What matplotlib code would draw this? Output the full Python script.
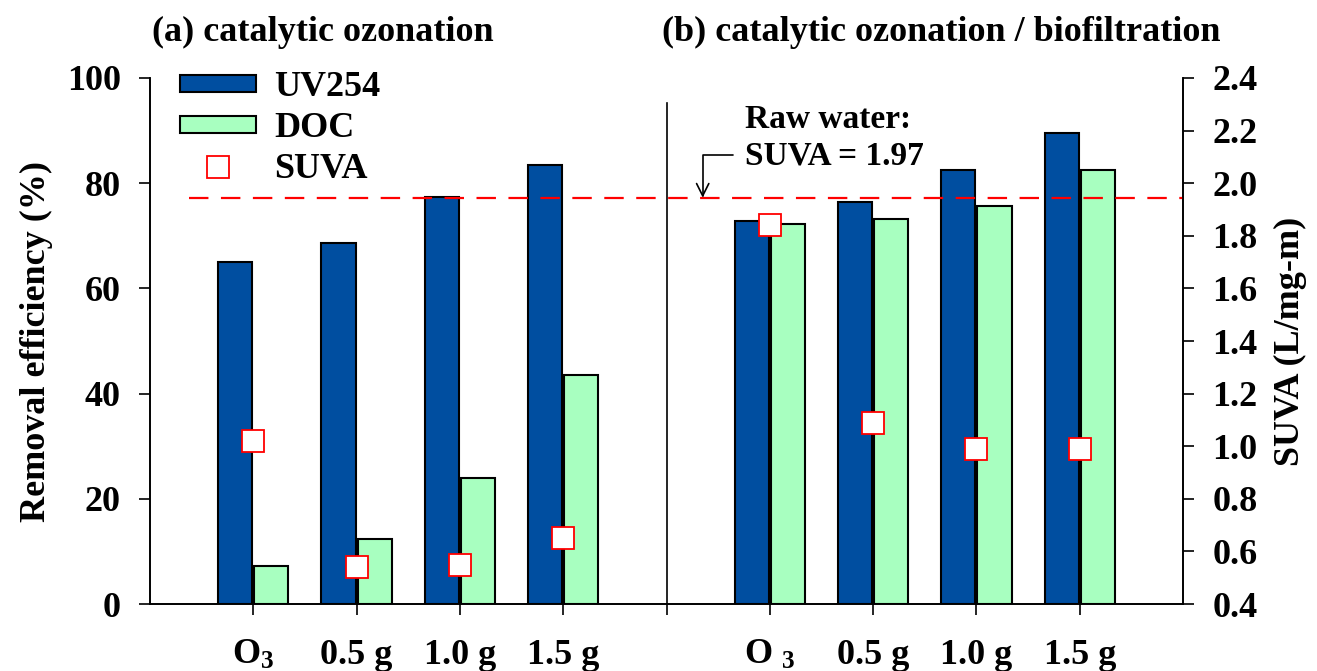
import matplotlib
matplotlib.use('Agg')
import matplotlib.pyplot as plt
import matplotlib.transforms as mtransforms
import numpy as np

# Data
groups = ['O$_3$', '0.5 g', '1.0 g', '1.5 g', 'O $_3$', '0.5 g', '1.0 g', '1.5 g']
xpos = np.array([1, 2, 3, 4, 6, 7, 8, 9])
uv254 = [65.0, 68.6, 77.4, 83.5, 72.8, 76.4, 82.5, 89.5]
doc = [7.2, 12.4, 24.0, 43.5, 72.2, 73.2, 75.7, 82.5]
suva = [1.02, 0.54, 0.55, 0.65, 1.84, 1.09, 0.99, 0.99]
raw_suva = 1.945

plt.rcParams['font.family'] = 'Liberation Serif'
plt.rcParams['font.weight'] = 'bold'
plt.rcParams['axes.labelweight'] = 'bold'
plt.rcParams['mathtext.fontset'] = 'custom'
plt.rcParams['mathtext.rm'] = 'Liberation Serif:bold'
plt.rcParams['mathtext.default'] = 'rm'
plt.rcParams['lines.scale_dashes'] = False

fs = 26

fig = plt.figure(figsize=(13.17, 6.71), dpi=100)
ax = fig.add_axes([0.1139, 0.0998, 0.7844, 0.784])
ax2 = ax.twinx()

w = 0.33
ax.bar(xpos - 0.175, uv254, w, color='#004ea0', edgecolor='black', linewidth=1.5, label='UV254', zorder=2)
ax.bar(xpos + 0.175, doc, w, color='#a8ffc0', edgecolor='black', linewidth=1.5, label='DOC', zorder=2)
ax2.plot(xpos, suva, 's', ms=16, mfc='white', mec='red', mew=1.3, label='SUVA', zorder=3)
raw = ax2.hlines(raw_suva, 0.38, 10, colors='red', linewidth=1.6, zorder=1)
raw.set_dashes([(0, (14, 9))])

# divider between panels
ax.axvline(5, 0, 0.952, color='black', linewidth=1.2)

ax.set_xlim(0, 10)
ax.set_ylim(0, 100)
ax2.set_ylim(0.4, 2.4)
ax.set_yticks(range(0, 101, 20))
ax2.set_yticks(np.arange(0.4, 2.41, 0.2))
ax2.set_yticklabels(['%.1f' % v for v in np.arange(0.4, 2.41, 0.2)])
ax.set_xticks(list(xpos) + [5])
ax.set_xticklabels(groups + [''])

for a in (ax, ax2):
    a.spines['top'].set_visible(False)
    for s in a.spines.values():
        s.set_linewidth(1.2)
ax.tick_params(axis='both', direction='out', length=8, width=1.2, labelsize=fs, pad=13)
ax.tick_params(axis='x', pad=17)
ax2.tick_params(axis='y', direction='out', length=8, width=1.2, labelsize=fs, pad=13)

ax.set_ylabel('Removal efficiency (%)', fontsize=fs, labelpad=10)
ax2.set_ylabel('SUVA (L/mg-m)', fontsize=fs, labelpad=12)

trans = mtransforms.blended_transform_factory(ax.transData, ax.transAxes)
ax.text(1.675, 1.07, '(a) catalytic ozonation', transform=trans, ha='center', va='baseline', fontsize=fs)
ax.text(7.66, 1.07, '(b) catalytic ozonation / biofiltration', transform=trans, ha='center', va='baseline', fontsize=fs)

# raw water annotation
ax2.annotate('', xy=(5.35, raw_suva), xytext=(5.64, 2.107),
             arrowprops=dict(arrowstyle='->', color='black', lw=1.2, mutation_scale=22,
                             shrinkA=0, shrinkB=0,
                             connectionstyle='angle,angleA=0,angleB=90,rad=0'))
ax2.text(5.76, 2.30, 'Raw water:\nSUVA = 1.97', fontsize=24, ha='left', va='top', linespacing=1.2)

h1, l1 = ax.get_legend_handles_labels()
h2, l2 = ax2.get_legend_handles_labels()
ax2.legend(h1 + h2, l1 + l2, loc='upper left', bbox_to_anchor=(0.015, 1.04), frameon=False,
           fontsize=fs, handlelength=2.1, handleheight=0.38, labelspacing=0.22,
           handletextpad=0.5, borderaxespad=0)

fig.savefig('out.png', dpi=100)
